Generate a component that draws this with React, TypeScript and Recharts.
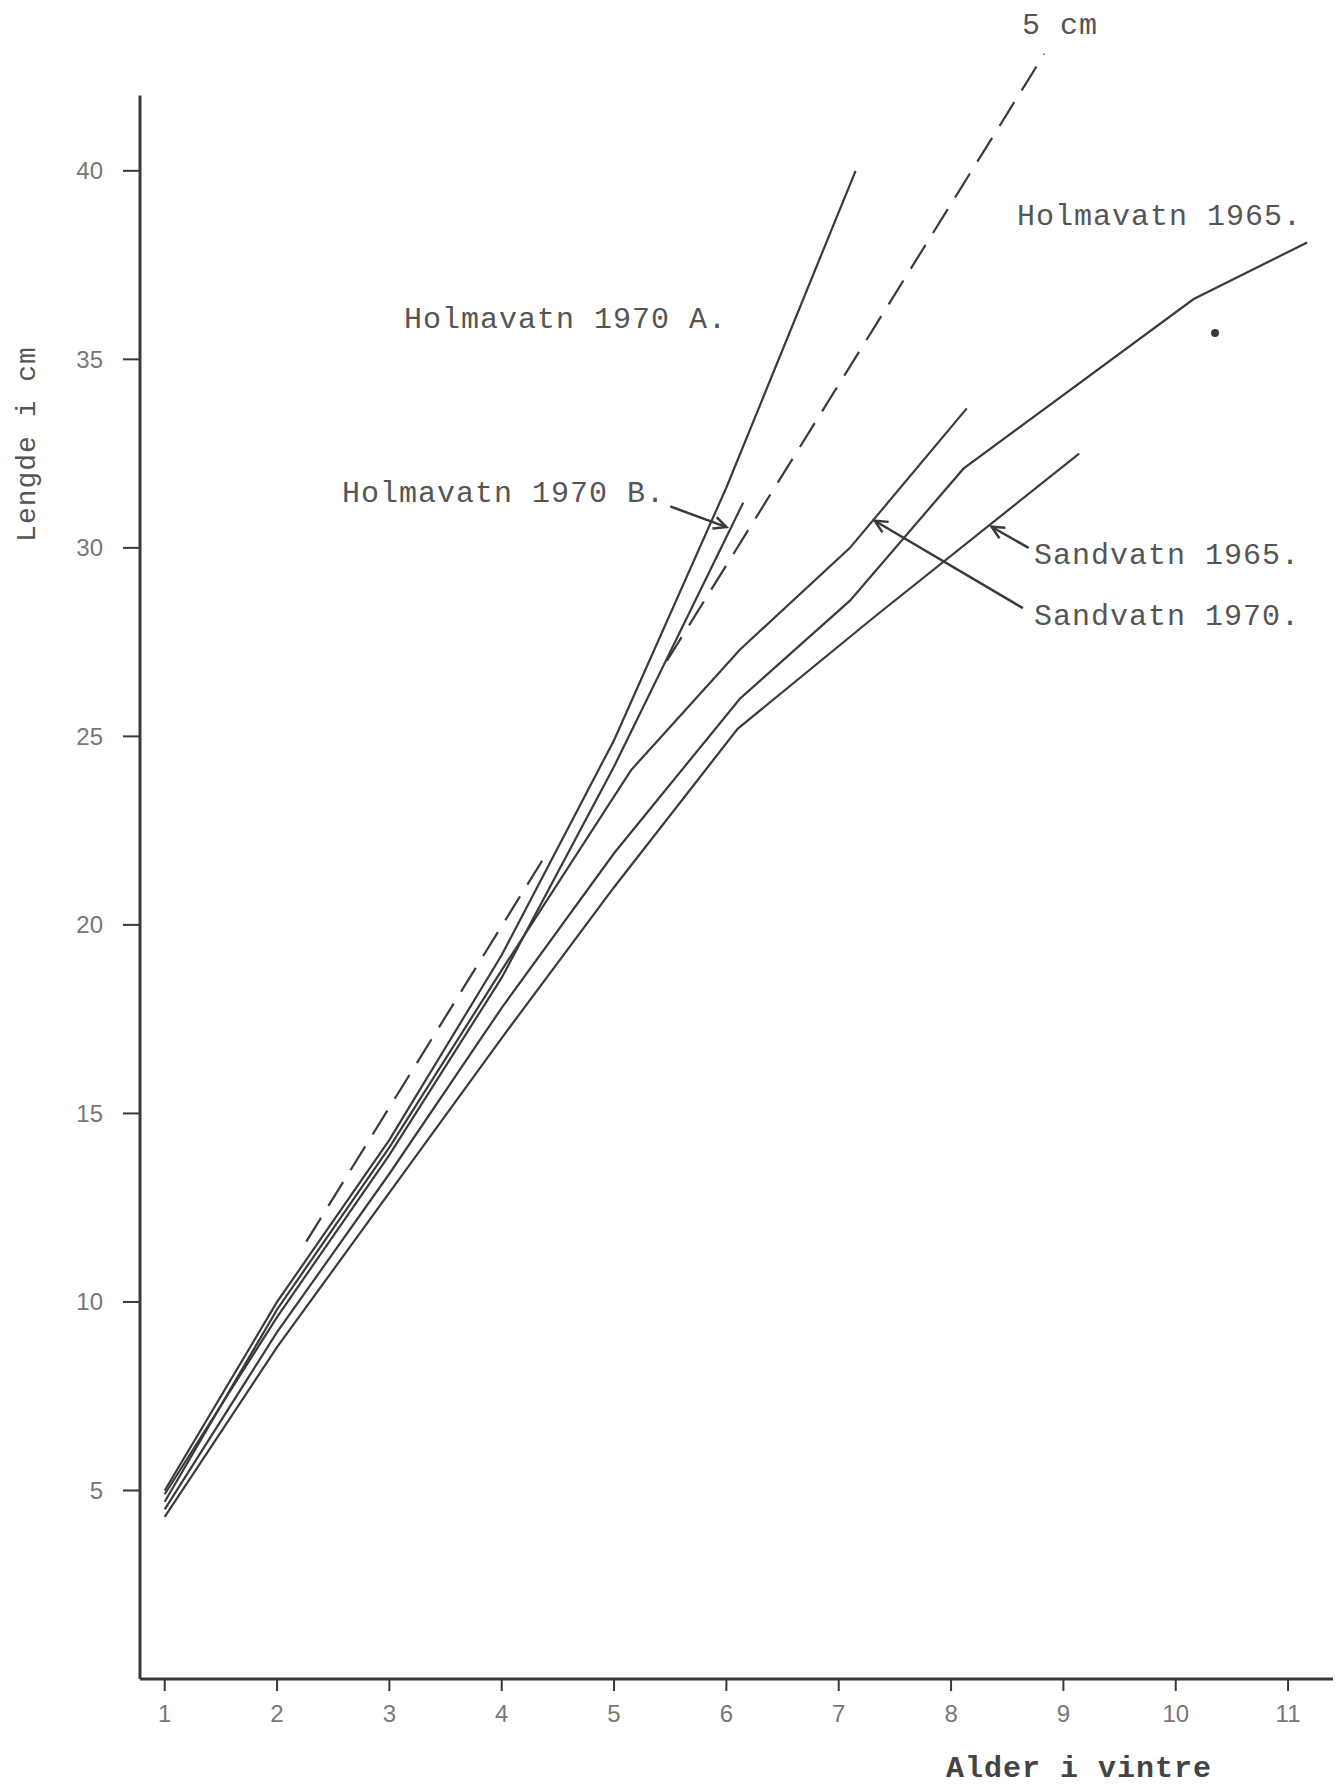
import React from 'react';
import {
  ComposedChart,
  Line,
  Scatter,
  XAxis,
  YAxis,
  ReferenceLine,
} from 'recharts';

// ages (alder i vintre) and mean lengths (cm)
const holm70A_age = [1, 2, 3, 4, 5, 6, 7.15];
const holm70A_len = [5.0, 10.0, 14.3, 19.2, 24.9, 31.6, 40.0];

const holm70B_age = [1, 2, 3, 4, 5, 6.15];
const holm70B_len = [4.9, 9.6, 13.9, 18.6, 24.2, 31.2];

const holm65_age = [1, 2, 3, 4, 5, 6.12, 7.1, 8.11, 10.16, 11.17];
const holm65_len = [4.5, 9.2, 13.4, 17.8, 21.9, 26.0, 28.6, 32.1, 36.6, 38.1];

const sand70_age = [1, 2, 3, 4, 5.15, 6.12, 7.1, 8.14];
const sand70_len = [4.7, 9.8, 14.1, 18.8, 24.1, 27.3, 30.0, 33.7];

const sand65_age = [1, 2, 3, 4, 5, 6.1, 7.33, 9.14];
const sand65_len = [4.3, 8.8, 12.9, 17.0, 21.0, 25.2, 28.2, 32.5];

// 5 cm per year reference line (dashed, broken where it crosses the curves)
const ref5_lowAge = [2.26, 4.38];
const ref5_lowLen = [11.6, 21.8];
const ref5_highAge = [5.47, 8.83];
const ref5_highLen = [27.0, 43.1];

const loneDot = [{ x: 10.35, y: 35.7 }];

const xTicks = [1, 2, 3, 4, 5, 6, 7, 8, 9, 10, 11];
const yTicks = [5, 10, 15, 20, 25, 30, 35, 40];

// label arrows: [from, to] in data units
const arrowB = [{ x: 5.5, y: 31.1 }, { x: 6.0, y: 30.55 }];
const arrowS65 = [{ x: 8.69, y: 30.0 }, { x: 8.36, y: 30.56 }];
const arrowS70 = [{ x: 8.64, y: 28.4 }, { x: 7.32, y: 30.72 }];

const zip = (xs: number[], ys: number[]) => xs.map((x, i) => ({ x, y: ys[i] }));

const INK = '#3a3a3a';
const TEXT = '#555';

function Arrow(props: any) {
  const { x1, y1, x2, y2 } = props;
  const a = Math.atan2(y2 - y1, x2 - x1);
  const L = 14;
  const w = 0.45;
  const p1 = [x2 - L * Math.cos(a - w), y2 - L * Math.sin(a - w)];
  const p2 = [x2 - L * Math.cos(a + w), y2 - L * Math.sin(a + w)];
  return (
    <g>
      <line x1={x1} y1={y1} x2={x2} y2={y2} stroke={INK} strokeWidth={2.5} />
      <polyline
        points={`${p1[0]},${p1[1]} ${x2},${y2} ${p2[0]},${p2[1]}`}
        fill="none"
        stroke={INK}
        strokeWidth={2.5}
      />
    </g>
  );
}

const label = (left: number, top: number, extra: React.CSSProperties = {}) => ({
  position: 'absolute' as const,
  left,
  top,
  fontFamily: '"Liberation Mono", "DejaVu Sans Mono", monospace',
  fontSize: 30,
  letterSpacing: 1,
  lineHeight: 1,
  color: TEXT,
  whiteSpace: 'nowrap' as const,
  ...extra,
});

export default function App() {
  const lineProps = {
    type: 'linear' as const,
    dataKey: 'y',
    stroke: INK,
    strokeWidth: 2.2,
    dot: false,
    activeDot: false,
    isAnimationActive: false,
  };

  return (
    <div style={{ position: 'relative', width: 1342, height: 1787, background: '#fff' }}>
      <style>{'body{margin:0}'}</style>
      <ComposedChart
        width={1342}
        height={1787}
        margin={{ top: 20, right: 9, left: 0, bottom: 48 }}
      >
        <XAxis
          type="number"
          dataKey="x"
          domain={[0.78, 11.4]}
          ticks={xTicks}
          allowDataOverflow
          height={60}
          axisLine={{ stroke: INK, strokeWidth: 3 }}
          tickLine={{ stroke: INK, strokeWidth: 2 }}
          tickSize={12}
          tickMargin={14}
          tick={{ fontSize: 24, fill: '#777', fontFamily: '"Liberation Sans", sans-serif' }}
        />
        <YAxis
          type="number"
          dataKey="y"
          domain={[0, 44]}
          ticks={yTicks}
          allowDataOverflow
          width={140}
          axisLine={false}
          tickLine={{ stroke: INK, strokeWidth: 2 }}
          tickSize={17}
          tickMargin={20}
          tick={{ fontSize: 24, fill: '#777', fontFamily: '"Liberation Sans", sans-serif' }}
        />
        <ReferenceLine
          segment={[{ x: 0.78, y: 0 }, { x: 0.78, y: 42 }]}
          stroke={INK}
          strokeWidth={3}
        />

        <Line {...lineProps} data={zip(holm70A_age, holm70A_len)} name="Holmavatn 1970 A" />
        <Line {...lineProps} data={zip(holm70B_age, holm70B_len)} name="Holmavatn 1970 B" />
        <Line {...lineProps} data={zip(holm65_age, holm65_len)} name="Holmavatn 1965" />
        <Line {...lineProps} data={zip(sand70_age, sand70_len)} name="Sandvatn 1970" />
        <Line {...lineProps} data={zip(sand65_age, sand65_len)} name="Sandvatn 1965" />
        <Line
          {...lineProps}
          data={zip(ref5_lowAge, ref5_lowLen)}
          strokeDasharray="28 14"
          name="5 cm a"
        />
        <Line
          {...lineProps}
          data={zip(ref5_highAge, ref5_highLen)}
          strokeDasharray="28 14"
          name="5 cm b"
        />
        <Scatter
          data={loneDot}
          dataKey="y"
          isAnimationActive={false}
          shape={(p: any) => <circle cx={p.cx} cy={p.cy} r={4} fill={INK} />}
        />

        <ReferenceLine segment={arrowB} shape={Arrow} />
        <ReferenceLine segment={arrowS65} shape={Arrow} />
        <ReferenceLine segment={arrowS70} shape={Arrow} />
      </ComposedChart>

      <div style={label(1022, 11)}>5 cm</div>
      <div style={label(404, 305)}>Holmavatn 1970 A.</div>
      <div style={label(342, 479)}>Holmavatn 1970 B.</div>
      <div style={label(1017, 202)}>Holmavatn 1965.</div>
      <div style={label(1034, 541)}>Sandvatn 1965.</div>
      <div style={label(1034, 602)}>Sandvatn 1970.</div>
      <div style={label(946, 1754, { fontWeight: 'bold', color: '#444' })}>Alder i vintre</div>
      <div
        style={label(28, 444, {
          transform: 'translate(-50%, -50%) rotate(-90deg)',
          fontSize: 28,
        })}
      >
        Lengde i cm
      </div>
    </div>
  );
}
